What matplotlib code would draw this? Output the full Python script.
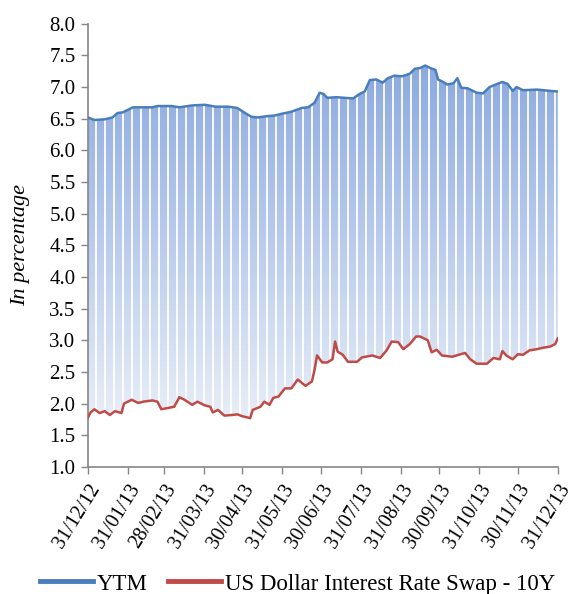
import numpy as np
import pandas as pd
import matplotlib
matplotlib.use("Agg")
import matplotlib.pyplot as plt
from matplotlib.patches import Polygon
from matplotlib.lines import Line2D
import matplotlib.dates as mdates

# ---- data (day offsets from 31/12/2012, values in %) ----
ytm_days = [0, 5, 13, 19, 23, 27, 31, 35, 44, 50, 54, 65, 71, 81, 91, 99, 109, 116,
            122, 127, 132, 139, 145, 151, 158, 166, 171, 176, 180, 183, 186, 193, 206,
            211, 215, 219, 224, 229, 233, 238, 244, 250, 254, 258, 262, 266, 270, 272,
            276, 279, 284, 287, 290, 295, 302, 307, 312, 318, 322, 326, 330, 333, 338,
            349, 359, 365]
ytm_vals = [6.52, 6.48, 6.49, 6.52, 6.59, 6.60, 6.64, 6.68, 6.68, 6.68, 6.70, 6.70, 6.68,
            6.71, 6.72, 6.69, 6.69, 6.67, 6.59, 6.53, 6.52, 6.54, 6.55, 6.58, 6.61, 6.67,
            6.68, 6.75, 6.91, 6.89, 6.83, 6.84, 6.82, 6.89, 6.93, 7.11, 7.12, 7.07, 7.14,
            7.18, 7.17, 7.21, 7.29, 7.30, 7.34, 7.30, 7.27, 7.12, 7.08, 7.04, 7.06, 7.14,
            6.99, 6.98, 6.91, 6.90, 7.00, 7.05, 7.08, 7.05, 6.94, 7.00, 6.95, 6.96, 6.94,
            6.93]

swap_days = [0, 2, 5, 9, 13, 17, 21, 26, 28, 34, 39, 43, 50, 54, 57, 62, 67, 71, 75, 81,
             85, 91, 95, 97, 101, 106, 112, 116, 120, 126, 128, 134, 137, 141, 144, 148,
             153, 158, 163, 169, 174, 176, 178, 182, 186, 190, 192, 194, 198, 202, 209,
             213, 221, 227, 232, 236, 241, 245, 250, 255, 258, 264, 267, 271, 275, 283,
             293, 297, 302, 310, 315, 320, 322, 325, 330, 334, 338, 343, 349, 353, 359,
             363, 365]
swap_vals = [1.78, 1.86, 1.91, 1.85, 1.88, 1.82, 1.88, 1.85, 2.00, 2.06, 2.01, 2.03, 2.05,
             2.03, 1.91, 1.93, 1.95, 2.10, 2.06, 1.98, 2.03, 1.97, 1.95, 1.86, 1.90, 1.81,
             1.82, 1.83, 1.80, 1.77, 1.90, 1.95, 2.03, 1.98, 2.09, 2.11, 2.24, 2.24, 2.38,
             2.28, 2.35, 2.53, 2.76, 2.65, 2.65, 2.70, 2.98, 2.82, 2.77, 2.66, 2.66, 2.73,
             2.76, 2.72, 2.84, 2.98, 2.97, 2.86, 2.94, 3.06, 3.06, 3.00, 2.81, 2.85, 2.76,
             2.74, 2.80, 2.70, 2.63, 2.63, 2.72, 2.70, 2.83, 2.76, 2.70, 2.78, 2.77, 2.84,
             2.86, 2.88, 2.90, 2.94, 3.03]

tick_labels = ["31/12/12", "31/01/13", "28/02/13", "31/03/13", "30/04/13", "31/05/13",
               "30/06/13", "31/07/13", "31/08/13", "30/09/13", "31/10/13", "30/11/13",
               "31/12/13"]

series_names = ["YTM", "US Dollar Interest Rate Swap - 10Y"]

# ---- setup ----
plt.rcParams['font.family'] = ['Liberation Serif', 'DejaVu Serif']
start = pd.Timestamp("2012-12-31")
yd = mdates.date2num(start + pd.to_timedelta(ytm_days, unit="D"))
sd = mdates.date2num(start + pd.to_timedelta(swap_days, unit="D"))
tick_dates = mdates.date2num(pd.to_datetime(tick_labels, format="%d/%m/%y"))

fig = plt.figure(figsize=(5.75, 5.94), dpi=100)
ax = fig.add_axes([0.153, 0.214, 0.817, 0.746])

# gradient fill between the two series
verts = np.vstack([np.column_stack([yd, ytm_vals]),
                   np.column_stack([sd[::-1], np.array(swap_vals)[::-1]])])
poly = Polygon(verts, closed=True, facecolor="none", edgecolor="none")
ax.add_patch(poly)
top_c = np.array([0x8b, 0xa9, 0xdf]) / 255
bot_c = np.array([0xe8, 0xee, 0xf8]) / 255
t = np.linspace(0, 1, 256)[:, None]
grad = (top_c * (1 - t) + bot_c * t)[:, None, :]
im = ax.imshow(grad, extent=[yd[0], yd[-1], 1.75, 7.4], origin="upper",
               aspect="auto", zorder=1, interpolation="bilinear")
im.set_clip_path(poly)

# weekly white separators
wk = mdates.date2num(start + pd.to_timedelta(np.arange(6, 365, 7), unit="D"))
ax.vlines(wk, np.interp(wk, sd, swap_vals), np.interp(wk, yd, ytm_vals),
          colors="white", lw=1.3, zorder=2)

ax.plot(yd, ytm_vals, color="#4a7ebb", lw=1.8, zorder=3)
ax.plot(sd, swap_vals, color="#be4b48", lw=1.8, zorder=3)

ax.set_xlim(tick_dates[0], tick_dates[-1])
ax.set_ylim(1.0, 8.0)
ax.set_yticks(np.arange(1.0, 8.01, 0.5))
ax.set_yticklabels([f"{v:.1f}" for v in np.arange(1.0, 8.01, 0.5)], fontsize=15)
ax.set_xticks(tick_dates)
ax.set_xticklabels(tick_labels, rotation=58, ha="right", rotation_mode="anchor",
                   fontsize=14.5)
ax.tick_params(axis="both", color="#868686", length=5, width=1)
ax.tick_params(axis="x", pad=5)
ax.tick_params(axis="y", pad=4)
for s in ["top", "right"]:
    ax.spines[s].set_visible(False)
for s in ["left", "bottom"]:
    ax.spines[s].set_color("#868686")
    ax.spines[s].set_linewidth(1.2)
ax.set_ylabel("In percentage", fontstyle="italic", fontsize=16)
ax.yaxis.set_label_coords(-0.123, 0.5)

handles = [Line2D([0], [0], color="#4a7ebb", lw=3.5),
           Line2D([0], [0], color="#be4b48", lw=3.5)]
fig.legend(handles, series_names, loc="center left",
           bbox_to_anchor=(40 / 575, 1 - 584 / 594),
           ncol=2, frameon=False, fontsize=16.5, handlelength=2.3, handletextpad=0.17,
           columnspacing=0.9, borderpad=0, borderaxespad=0)

fig.savefig("out.png", dpi=100)
